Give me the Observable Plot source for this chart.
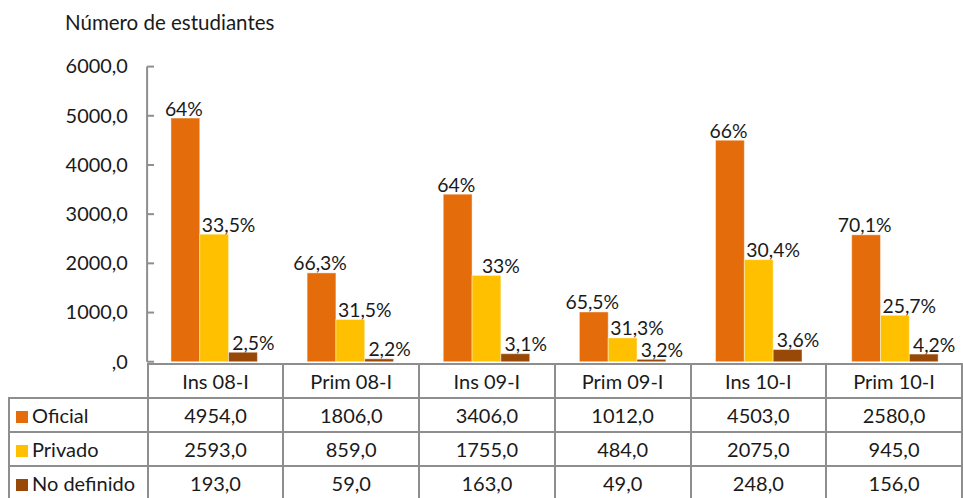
<!DOCTYPE html>
<html>
<head>
<meta charset="utf-8">
<script src="https://cdn.jsdelivr.net/npm/d3@7"></script>
<script src="https://cdn.jsdelivr.net/npm/@observablehq/plot@0.6"></script>
<style>
  html, body { margin: 0; padding: 0; background: #fff; }
  body { overflow: hidden; font-family: Lato, "Open Sans", sans-serif; color: #1a1a1a; }
  #wrap { position: relative; width: 963px; height: 498px; overflow: hidden; }
  #title { position: absolute; left: 65px; top: 10px; font-size: 20.5px; white-space: nowrap; }
  #chart { position: absolute; left: 0; top: 0; }
  #tbl { position: absolute; left: 8px; top: 363px; border-collapse: collapse; table-layout: fixed; font-size: 20px; }
  #tbl td { border: 2px solid #8e8e8e; height: 32px; padding: 0; text-align: center; white-space: nowrap; }
  #tbl td.lab { text-align: left; padding-left: 6px; }
  #tbl td.blank { border-top: none; border-left: none; }
  .sw { display: inline-block; width: 12px; height: 12px; margin-right: 4px; vertical-align: 0px; }
</style>
</head>
<body>
<div id="wrap">
  <div id="title"></div>
  <div id="chart"></div>
  <table id="tbl"></table>
</div>
<script>
const titleText = "Número de estudiantes";
const categories = ["Ins 08-I", "Prim 08-I", "Ins 09-I", "Prim 09-I", "Ins 10-I", "Prim 10-I"];
const series = ["Oficial", "Privado", "No definido"];
const oficial = [4954, 1806, 3406, 1012, 4503, 2580];
const privado = [2593, 859, 1755, 484, 2075, 945];
const noDefinido = [193, 59, 163, 49, 248, 156];
const pctOficial = [64, 66.3, 64, 65.5, 66, 70.1];
const pctPrivado = [33.5, 31.5, 33, 31.3, 30.4, 25.7];
const pctNoDefinido = [2.5, 2.2, 3.1, 3.2, 3.6, 4.2];
const yTicks = [0, 1000, 2000, 3000, 4000, 5000, 6000];
const colors = ["#E46C0A", "#FFC000", "#984807"];

const valuesBySeries = [oficial, privado, noDefinido];
const pctBySeries = [pctOficial, pctPrivado, pctNoDefinido];

const rows = [];
series.forEach((s, i) => {
  categories.forEach((c, j) => {
    rows.push({cat: c, series: s, value: valuesBySeries[i][j], pct: pctBySeries[i][j]});
  });
});

const fmtNum = v => (v === 0 ? "" : String(v)) + ",0";
const fmtPct = v => String(v).replace(".", ",") + "%";
const labelDx = {"Oficial": -2, "Privado": 14, "No definido": 10};

document.getElementById("title").textContent = titleText;

const chart = Plot.plot({
  width: 969,
  height: 366,
  marginTop: 67,
  marginBottom: 2,
  marginLeft: 147,
  marginRight: 0,
  style: {fontFamily: "Lato, 'Open Sans', sans-serif", fontSize: "20px", color: "#1a1a1a", background: "transparent", overflow: "visible"},
  fx: {domain: categories, padding: 0, axis: null},
  x: {domain: series, paddingInner: 0, paddingOuter: 0.862, axis: null},
  y: {domain: [0, 6000], ticks: yTicks, tickFormat: fmtNum, tickSize: 0, tickPadding: 19, label: null},
  color: {domain: series, range: colors},
  marks: [
    Plot.barY(rows, {fx: "cat", x: "series", y: "value", fill: "series", stroke: "#ffffff", strokeOpacity: 0.45, strokeWidth: 1}),
    ...series.map(s => Plot.text(rows.filter(d => d.series === s), {
      fx: "cat", x: "series", y: "value", text: d => fmtPct(d.pct),
      lineAnchor: "bottom", dy: -3, dx: labelDx[s], fill: "#1a1a1a", fontSize: 19.5
    }))
  ]
});
document.getElementById("chart").appendChild(chart);

// axis line and inward ticks drawn with the plot's own y scale
const ys = chart.scale("y");
const svg = d3.select(chart);
const g = svg.append("g").attr("stroke", "#8e8e8e").attr("stroke-width", 2);
g.append("line").attr("x1", 148).attr("x2", 148).attr("y1", ys.apply(6000)).attr("y2", ys.apply(0));
yTicks.forEach(t => {
  g.append("line").attr("x1", 148).attr("x2", 155).attr("y1", ys.apply(t)).attr("y2", ys.apply(t));
});

// data table
const tbl = document.getElementById("tbl");
const colgroup = document.createElement("colgroup");
[139, ...categories.map(() => 137)].forEach(w => {
  const col = document.createElement("col");
  col.style.width = w + "px";
  colgroup.appendChild(col);
});
tbl.appendChild(colgroup);
const head = document.createElement("tr");
const blank = document.createElement("td");
blank.className = "blank";
head.appendChild(blank);
categories.forEach(c => {
  const td = document.createElement("td");
  td.textContent = c;
  head.appendChild(td);
});
tbl.appendChild(head);
series.forEach((s, i) => {
  const tr = document.createElement("tr");
  const lab = document.createElement("td");
  lab.className = "lab";
  const sw = document.createElement("span");
  sw.className = "sw";
  sw.style.background = colors[i];
  lab.appendChild(sw);
  lab.appendChild(document.createTextNode(s));
  tr.appendChild(lab);
  valuesBySeries[i].forEach(v => {
    const td = document.createElement("td");
    td.textContent = fmtNum(v);
    tr.appendChild(td);
  });
  tbl.appendChild(tr);
});
</script>
</body>
</html>
